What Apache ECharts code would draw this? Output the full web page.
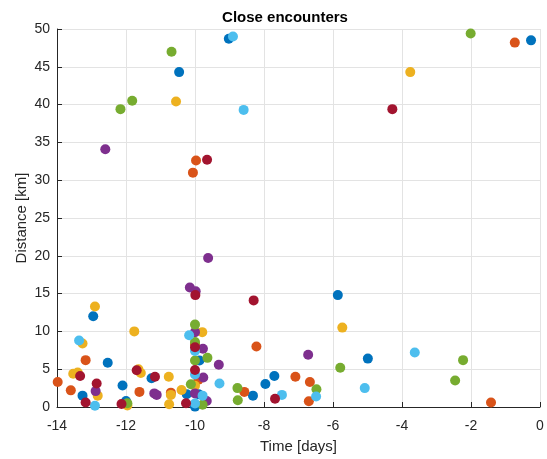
<!DOCTYPE html>
<html>
<head>
<meta charset="utf-8">
<script src="https://cdn.jsdelivr.net/npm/echarts@6/dist/echarts.min.js"></script>
<style>html,body{margin:0;padding:0;background:#fff;}#c{width:547px;height:459px;}</style>
</head>
<body>
<div id="c"></div>
<script>
const seriesNames = ['S1','S2','S3','S4','S5','S6','S7'];
const blue = [[-10.46,44.3],[-9.02,48.7],[-0.26,48.5],[-5.86,14.8],[-12.95,12.0],[-12.53,5.85],[-13.26,1.5],[-12.1,2.85],[-12.0,0.8],[-11.26,3.8],[-10.24,1.7],[-9.9,1.7],[-9.87,6.15],[-7.96,3.05],[-7.70,4.1],[-8.32,1.5],[-4.99,6.4],[-10.0,0.05]];
const orange = [[-0.73,48.2],[-9.97,32.6],[-10.06,31.0],[-13.17,6.2],[-13.98,3.3],[-13.6,2.2],[-11.61,2.0],[-10.70,1.9],[-10.0,8.3],[-9.90,3.6],[-8.22,8.0],[-8.57,2.0],[-7.09,4.0],[-6.67,3.3],[-6.70,0.76],[-1.42,0.6]];
const yellow = [[-10.55,40.4],[-3.76,44.3],[-11.76,10.0],[-12.9,13.3],[-13.26,8.4],[-13.53,4.4],[-13.4,4.55],[-12.82,1.5],[-11.64,5.0],[-11.57,4.5],[-10.76,4.0],[-10.75,0.37],[-11.96,0.2],[-10.39,2.25],[-10.70,1.6],[-9.79,9.9],[-10.0,2.8],[-5.73,10.5]];
const purple = [[-12.6,34.1],[-9.62,19.7],[-10.15,15.8],[-9.98,15.3],[-12.88,2.1],[-11.18,1.8],[-11.11,1.6],[-10.0,9.9],[-9.77,7.7],[-9.31,5.6],[-9.76,3.9],[-10.0,1.8],[-9.66,0.8],[-6.72,6.9]];
const green = [[-10.68,47.0],[-12.16,39.4],[-11.82,40.5],[-2.01,49.4],[-10.0,10.9],[-10.0,8.6],[-10.0,6.15],[-9.64,6.5],[-10.12,3.0],[-9.78,0.3],[-11.96,0.5],[-8.77,2.5],[-8.76,0.9],[-5.79,5.2],[-6.48,2.35],[-2.23,6.2],[-2.46,3.5]];
const lightblue = [[-8.90,49.0],[-8.59,39.3],[-13.36,8.8],[-12.9,0.16],[-10.17,9.5],[-10.0,7.4],[-10.0,4.3],[-9.29,3.1],[-9.78,1.5],[-10.0,0.46],[-7.48,1.6],[-6.49,1.4],[-5.08,2.5],[-3.63,7.2]];
const darkred = [[-4.28,39.4],[-9.65,32.7],[-9.99,14.8],[-8.30,14.1],[-13.33,4.1],[-12.85,3.1],[-13.17,0.6],[-12.13,0.4],[-11.69,4.85],[-11.16,4.0],[-10.26,0.5],[-10.0,7.9],[-10.0,4.9],[-7.68,1.08]];
const xTicks = [-14,-12,-10,-8,-6,-4,-2,0];
const yTicks = [0,5,10,15,20,25,30,35,40,45,50];

const allData = [blue, orange, yellow, purple, green, lightblue, darkred];
const colors = ['#0072BD','#D95319','#EDB120','#7E2F8E','#77AC30','#4DBEEE','#A2142F'];
const font = "'Liberation Sans', Arial, Helvetica, sans-serif";
const chart = echarts.init(document.getElementById('c'), null, {renderer:'canvas'});
chart.setOption({
  animation:false,
  backgroundColor:'#fff',
  graphic:[{type:'text', x:285, y:18, style:{text:'Close encounters', fontFamily:font, fontSize:15, fontWeight:'bold', fill:'#000', textAlign:'center', textVerticalAlign:'middle'}}],
  grid:{left:57, right:7, top:29, bottom:49.5, containLabel:false},
  xAxis:{type:'value', min:xTicks[0], max:xTicks[xTicks.length-1], interval:2,
    name:'Time [days]', nameLocation:'middle', nameGap:32,
    nameTextStyle:{fontFamily:font, fontSize:15, color:'#262626'},
    axisLine:{onZero:false, lineStyle:{color:'#262626', width:1}},
    axisTick:{inside:true, length:5, lineStyle:{color:'#262626'}},
    axisLabel:{fontFamily:font, fontSize:14, color:'#262626', margin:12},
    splitLine:{show:true, lineStyle:{color:'#e3e3e3', width:1}}},
  yAxis:{type:'value', min:yTicks[0], max:yTicks[yTicks.length-1], interval:5,
    name:'Distance [km]', nameLocation:'middle', nameGap:35, nameRotate:90, nameMoveOverlap:false,
    nameTextStyle:{fontFamily:font, fontSize:15, color:'#262626', verticalAlign:'middle'},
    axisLine:{show:true, onZero:false, lineStyle:{color:'#262626', width:1}},
    axisTick:{show:true, inside:true, length:5, lineStyle:{color:'#262626'}},
    axisLabel:{fontFamily:font, fontSize:14, color:'#262626', margin:7},
    splitLine:{show:true, lineStyle:{color:'#e3e3e3', width:1}}},
  series: allData.map((d,i)=>({
    name:seriesNames[i], type:'scatter', data:d, symbol:'circle', symbolSize:10,
    itemStyle:{color:colors[i], opacity:1}, z:2+i
  }))
});
</script>
</body>
</html>
